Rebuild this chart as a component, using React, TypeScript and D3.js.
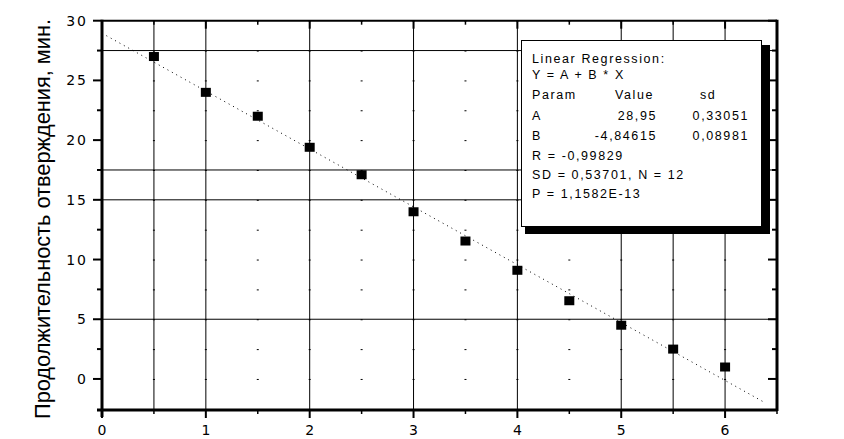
import React from "react";
import * as d3 from "d3";

// cure time vs. x
const xValues = [0.5, 1, 1.5, 2, 2.5, 3, 3.5, 4, 4.5, 5, 5.5, 6];
const yValues = [27, 24, 22, 19.4, 17.1, 14, 11.55, 9.1, 6.55, 4.5, 2.5, 1];

const xTicks = [0, 1, 2, 3, 4, 5, 6];
const yTicks = [0, 5, 10, 15, 20, 25, 30];

// full grid lines (the rest of the grid shows only as dots)
const xGridLines = [0.5, 1, 2, 3, 4, 5, 5.5, 6];
const yGridLines = [27.5, 17.5, 15, 5];

// fit result
const fitA = 28.95;
const fitB = -4.84615;
const fitXEnd = 6.37;

const legendTitle = ["Linear Regression:", "Y = A + B * X"];
const legendHeader = ["Param", "Value", "sd"];
const legendParams = [
  ["A", "28,95", "0,33051"],
  ["B", "-4,84615", "0,08981"],
];
const legendStats = ["R  = -0,99829", "SD = 0,53701, N = 12", "P = 1,1582E-13"];

const yLabel = "Продолжительность отверждения, мин.";

const W = 844;
const H = 439;

export default function App() {
  const x = d3.scaleLinear().domain([0, 6.5]).range([102, 777]);
  const y = d3.scaleLinear().domain([-2.6, 30]).range([410, 20.7]);

  const minorX = d3.range(0, 6.5, 0.5).map(v => +v.toFixed(1));
  const minorY = d3.range(0, 30.01, 2.5).map(v => +v.toFixed(1));

  const fitLine = d3.line<number>()
    .x(v => x(v))
    .y(v => y(fitA + fitB * v));

  const [x0, x1] = x.range();
  const [yb, yt] = y.range();
  const tickFont = "'DejaVu Sans', sans-serif";
  const legFont = "'Liberation Sans', Arial, sans-serif";

  return (
    <svg width={W} height={H} style={{ position: "absolute", left: 0, top: 0, background: "#fff" }}>
      {/* dotted minor grid */}
      {minorX.map(mx =>
        minorY.map(my => (
          <rect key={`d${mx}-${my}`} x={x(mx) - 1} y={y(my)} width={2} height={1} fill="#000" />
        ))
      )}

      {/* grid lines */}
      {xGridLines.map(v => (
        <line key={`gx${v}`} x1={x(v)} x2={x(v)} y1={yt} y2={yb} stroke="#000" strokeWidth={1} />
      ))}
      {yGridLines.map(v => (
        <line key={`gy${v}`} x1={x0} x2={x1} y1={y(v)} y2={y(v)} stroke="#000" strokeWidth={1} />
      ))}

      {/* regression line */}
      <path
        d={fitLine([0, fitXEnd]) || ""}
        fill="none"
        stroke="#000"
        strokeWidth={1}
        strokeDasharray="1 4"
      />

      {/* points */}
      {xValues.map((v, i) => (
        <rect key={`p${i}`} x={x(v) - 5} y={y(yValues[i]) - 4.5} width={10} height={9} fill="#000" />
      ))}

      {/* frame */}
      <line x1={x0} x2={x1} y1={yt} y2={yt} stroke="#000" strokeWidth={2} />
      <line x1={x1} x2={x1} y1={yt - 1} y2={yb + 1} stroke="#000" strokeWidth={3} />
      <line x1={x0 - 5} x2={x1} y1={yb} y2={yb} stroke="#000" strokeWidth={3} />
      <line x1={x0} x2={x0} y1={yt - 1} y2={yb + 7} stroke="#000" strokeWidth={3} />

      {/* x ticks bottom (out) and top (in) */}
      {minorX.concat([6.5]).map(v => {
        const major = Number.isInteger(v);
        return (
          <g key={`tx${v}`}>
            <line x1={x(v)} x2={x(v)} y1={yb} y2={yb + (major ? 8 : 4)} stroke="#000" strokeWidth={major ? 2 : 1.5} />
            <line x1={x(v)} x2={x(v)} y1={yt} y2={yt + (major ? 8 : 4)} stroke="#000" strokeWidth={major ? 2 : 1.5} />
          </g>
        );
      })}
      {/* y ticks left (out) and right (in) */}
      {minorY.map(v => {
        const major = v % 5 === 0;
        return (
          <g key={`ty${v}`}>
            <line x1={x0} x2={x0 - (major ? 9 : 5)} y1={y(v)} y2={y(v)} stroke="#000" strokeWidth={2} />
            <line x1={x1} x2={x1 - (major ? 9 : 5)} y1={y(v)} y2={y(v)} stroke="#000" strokeWidth={2} />
          </g>
        );
      })}

      {/* tick labels */}
      {xTicks.map(v => (
        <text key={`lx${v}`} x={x(v)} y={435} textAnchor="middle" fontFamily={tickFont} fontSize={14} fill="#000">
          {v}
        </text>
      ))}
      {yTicks.map(v => (
        <text key={`ly${v}`} x={88} y={y(v) + 5} textAnchor="end" fontFamily={tickFont} fontSize={14} letterSpacing={2} fill="#000">
          {v}
        </text>
      ))}

      {/* axis title */}
      <text
        transform="translate(50,219) rotate(-90)"
        textAnchor="middle"
        fontFamily={legFont}
        fontSize={22}
        textLength={400}
        lengthAdjust="spacingAndGlyphs"
        fill="#000"
      >
        {yLabel}
      </text>

      {/* legend box with shadow */}
      <rect x={525} y={45} width={245} height={189} fill="#000" />
      <rect x={521.5} y={40.5} width={240} height={186} fill="#fff" stroke="#000" strokeWidth={1} />
      <g fontFamily={legFont} fontSize={12.5} letterSpacing={1.6} fill="#000">
        <text x={532} y={63}>{legendTitle[0]}</text>
        <text x={532} y={79}>{legendTitle[1]}</text>
        <text x={532} y={99}>{legendHeader[0]}</text>
        <text x={615} y={99}>{legendHeader[1]}</text>
        <text x={700} y={99}>{legendHeader[2]}</text>
        {legendParams.map((r, i) => (
          <g key={`lp${i}`}>
            <text x={532} y={120 + i * 19.5}>{r[0]}</text>
            <text x={657} y={120 + i * 19.5} textAnchor="end">{r[1]}</text>
            <text x={749} y={120 + i * 19.5} textAnchor="end">{r[2]}</text>
          </g>
        ))}
        {legendStats.map((s, i) => (
          <text key={`ls${i}`} x={532} y={160 + i * 19}>{s}</text>
        ))}
      </g>
    </svg>
  );
}
